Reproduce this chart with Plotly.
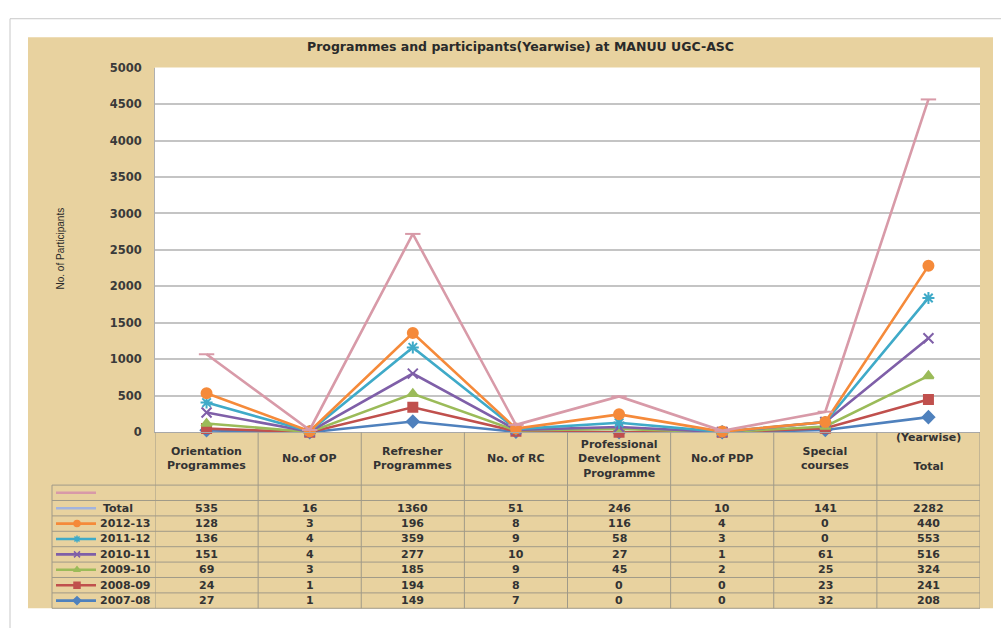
import plotly.graph_objects as go

W, H = 1001, 628

categories = ["Orientation Programmes", "No.of OP", "Refresher Programmes", "No. of RC",
              "Professional Development Programme", "No.of PDP", "Special courses", "Total"]
header_labels = ["Orientation<br>Programmes", "No.of OP", "Refresher<br>Programmes", "No. of RC",
                 "Professional<br>Development<br>Programme", "No.of PDP", "Special<br>courses",
                 "(Yearwise)<br><br>Total"]

s_2007_08 = [27, 1, 149, 7, 0, 0, 32, 208]
s_2008_09 = [24, 1, 194, 8, 0, 0, 23, 241]
s_2009_10 = [69, 3, 185, 9, 45, 2, 25, 324]
s_2010_11 = [151, 4, 277, 10, 27, 1, 61, 516]
s_2011_12 = [136, 4, 359, 9, 58, 3, 0, 553]
s_2012_13 = [128, 3, 196, 8, 116, 4, 0, 440]
s_total = [535, 16, 1360, 51, 246, 10, 141, 2282]

y_ticks = list(range(0, 5001, 500))

# series: name, values, color, symbol, size (bottom of stack first)
series = [
    ("2007-08", s_2007_08, "#4F81BD", "diamond", 9),
    ("2008-09", s_2008_09, "#C0504D", "square", 9),
    ("2009-10", s_2009_10, "#9BBB59", "triangle-up", 9),
    ("2010-11", s_2010_11, "#7F5FA8", "x-thin-open", 10),
    ("2011-12", s_2011_12, "#3FAAC8", "asterisk-open", 10),
    ("2012-13", s_2012_13, "#F58A3A", "circle", 10),
    ("Total", s_total, "#D89AA8", "line-ew-open", 11),
]

TEXT = "#333333"
GRID_LINE = "#A09A88"


def X(px):
    return px / W


def Y(py):
    return 1 - py / H


fig = go.Figure()

for name, vals, col, sym, size in series:
    fig.add_trace(go.Scatter(
        x=categories, y=vals, name=name, mode="lines+markers",
        stackgroup="one", fill="none",
        line=dict(color=col, width=2.6),
        marker=dict(symbol=sym, size=size, color=col, line=dict(color=col, width=2)),
        cliponaxis=False, xaxis="x", yaxis="y",
    ))

# table geometry (pixels)
row_top = 489
row_h = 15.75
n_rows = 8
row_bounds = [row_top + i * row_h for i in range(n_rows + 1)]
row_centers = [row_top + (i + 0.5) * row_h for i in range(n_rows)]

# legend keys inside the data table (drawn on an overlay axis in pixel units)
legend_rows = [("", "#D89AA8", None), ("Total", "#A2B3DE", None)]
for name, vals, col, sym, size in reversed(series[:-1]):
    legend_rows.append((name, col, sym))

for i, (lab, col, sym) in enumerate(legend_rows):
    cy = row_centers[i]
    fig.add_trace(go.Scatter(
        x=[56, 96], y=[cy, cy], mode="lines", line=dict(color=col, width=2.6),
        xaxis="x2", yaxis="y2", hoverinfo="skip"))
    if sym:
        fig.add_trace(go.Scatter(
            x=[77], y=[cy], mode="markers",
            marker=dict(symbol=sym, size=6, color=col, line=dict(color=col, width=1.5)),
            xaxis="x2", yaxis="y2", hoverinfo="skip"))

shapes = []
# outer page frame
shapes.append(dict(type="rect", xref="paper", yref="paper", x0=X(10), x1=X(1012), y0=Y(12), y1=Y(640),
                   line=dict(color="#C8C8C8", width=1), fillcolor="white", layer="below"))
# parchment background
shapes.append(dict(type="rect", xref="paper", yref="paper", x0=X(28), x1=X(993), y0=Y(31), y1=Y(615),
                   line=dict(width=0), fillcolor="#E8D29F", layer="below"))
# plot area
shapes.append(dict(type="rect", xref="paper", yref="paper", x0=X(155), x1=X(980), y0=Y(62), y1=Y(435),
                   line=dict(width=0), fillcolor="white", layer="below"))
# table vertical lines at category boundaries
for i in range(len(categories) + 1):
    shapes.append(dict(type="line", xref="x", yref="paper", x0=i - 0.5, x1=i - 0.5, y0=Y(435), y1=Y(615),
                       line=dict(color=GRID_LINE, width=1)))
# legend column left border
shapes.append(dict(type="line", xref="paper", yref="paper", x0=X(52), x1=X(52), y0=Y(row_top), y1=Y(615),
                   line=dict(color=GRID_LINE, width=1)))
for yb in row_bounds:
    shapes.append(dict(type="line", xref="paper", yref="paper", x0=X(52), x1=X(980), y0=Y(yb), y1=Y(yb),
                       line=dict(color=GRID_LINE, width=1)))

annotations = []
annotations.append(dict(text="<b>Programmes and participants(Yearwise) at MANUU UGC-ASC</b>",
                        xref="paper", yref="paper", x=X(520), y=Y(40), showarrow=False,
                        xanchor="center", yanchor="middle",
                        font=dict(family="DejaVu Sans", size=12.5, color="#2a2a2a")))
annotations.append(dict(text="No. of Participants", xref="paper", yref="paper", x=X(60), y=Y(247),
                        showarrow=False, textangle=-90, xanchor="center", yanchor="middle",
                        font=dict(family="Liberation Sans Narrow, Liberation Sans", size=10, color="#2a2a2a")))

tfont = dict(family="DejaVu Sans", size=11, color=TEXT)
for i, (cat, lab) in enumerate(zip(categories, header_labels)):
    cy = 462 if i < 7 else 455
    annotations.append(dict(text="<b>" + lab + "</b>", xref="x", yref="paper", x=cat, y=Y(cy),
                            showarrow=False, font=tfont, xanchor="center", yanchor="middle"))

table_rows = [[""] * 8, s_total, s_2012_13, s_2011_12, s_2010_11, s_2009_10, s_2008_09, s_2007_08]
for r, vals in enumerate(table_rows):
    for cat, v in zip(categories, vals):
        if v == "":
            continue
        annotations.append(dict(text="<b>%s</b>" % v, xref="x", yref="paper", x=cat, y=Y(row_centers[r]),
                                showarrow=False, font=tfont, xanchor="center", yanchor="middle"))

for i, (lab, col, sym) in enumerate(legend_rows):
    if lab:
        annotations.append(dict(text="<b>" + lab + "</b>", xref="paper", yref="paper",
                                x=X(98 if lab != "Total" else 101), y=Y(row_centers[i]),
                                xanchor="left", yanchor="middle", showarrow=False, font=tfont))

fig.update_layout(
    width=W, height=H,
    margin=dict(l=0, r=0, t=0, b=0),
    paper_bgcolor="white", plot_bgcolor="rgba(0,0,0,0)",
    showlegend=False, hovermode=False,
    shapes=shapes, annotations=annotations,
    xaxis=dict(domain=[X(155), X(980)], anchor="y", type="category", range=[-0.5, 7.5],
               showticklabels=False, showgrid=False, zeroline=False,
               showline=True, linecolor="#A8A8A8", linewidth=1, ticks=""),
    yaxis=dict(domain=[Y(435), Y(62)], anchor="x", range=[0, 5000], tickvals=y_ticks,
               showgrid=True, gridcolor="#C4C4C4", gridwidth=1.5, zeroline=False,
               showline=True, linecolor="#B0B0B0", linewidth=1, ticks="",
               ticklabelstandoff=10,
               tickfont=dict(family="DejaVu Sans", size=11.5, color="#3a3a3a", weight="bold")),
    xaxis2=dict(domain=[0, 1], anchor="y2", range=[0, W], visible=False),
    yaxis2=dict(domain=[0, 1], anchor="x2", range=[H, 0], visible=False),
)

post = ("document.documentElement.style.margin='0';document.body.style.margin='0';"
        "document.body.style.overflow='hidden';"
        "var d=document.querySelector('.plotly-graph-div');"
        "d.style.position='fixed';d.style.top='0px';d.style.left='0px';")

fig.write_html("out.html", config={"displayModeBar": False}, post_script=post)
